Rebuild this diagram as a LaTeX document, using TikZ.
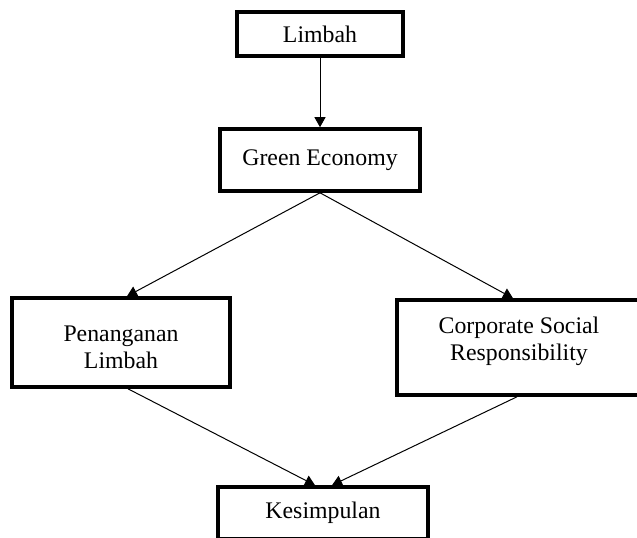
\documentclass[tikz,border=0pt]{standalone}
\usepackage{fontspec}
\setmainfont{Liberation Serif}
\usetikzlibrary{arrows.meta}
\begin{document}
\begin{tikzpicture}[x=.5pt, y=-.5pt, >={Triangle[length=5pt,width=5.5pt]},
  kotak/.style={draw, line width=1.8pt, font=\fontsize{11.9}{13.6}\selectfont, align=center, inner sep=0pt},
  teks/.style={font=\fontsize{11.9}{13.6}\selectfont, align=center, inner sep=0pt}]
\useasboundingbox (0,0) rectangle (637,537);
\clip (0,0) rectangle (637,537);

\node[kotak, minimum width=83pt, minimum height=22pt] (limbah) at (320,34) {Limbah};
\node[kotak, minimum width=100pt, minimum height=31pt] (green) at (320,160) {Green Economy};
\node[kotak, minimum width=109pt, minimum height=44.5pt] (pen) at (121,342.5) {};
\node[teks] (pentxt) at (121,347) {Penanganan\\Limbah};
\node[kotak, minimum width=123pt, minimum height=47.5pt] (csr) at (520,347.5) {};
\node[teks] (csrtxt) at (519,341) {Corporate Social\\Responsibility};
\node[kotak, minimum width=105pt, minimum height=26pt] (kes) at (323,513) {Kesimpulan};

\draw[->, line width=.5pt] (limbah.south)--(green.north);
\draw[->, line width=.5pt] (green.south)--([xshift=3pt]pen.north);
\draw[->, line width=.5pt] (green.south)--([xshift=-3.5pt]csr.north);
\draw[->, line width=.5pt] ([xshift=3.5pt]pen.south)--([xshift=-4pt]kes.north);
\draw[->, line width=.5pt] ([xshift=-1.5pt]csr.south)--([xshift=4.5pt]kes.north);
\end{tikzpicture}
\end{document}
